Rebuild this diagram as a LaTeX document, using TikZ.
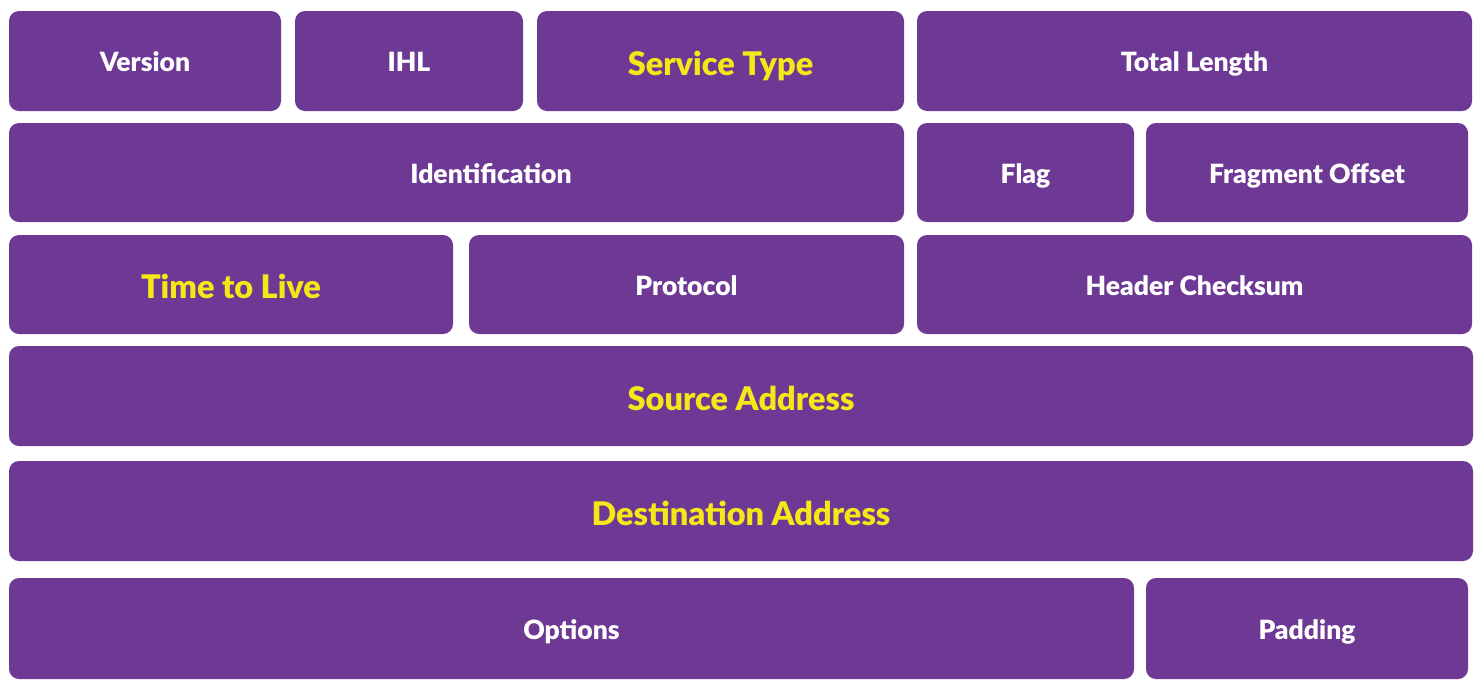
\documentclass[tikz,border=0pt]{standalone}
\usepackage{fontspec}
\setmainfont{Lato}[BoldFont={Lato Black}]
\definecolor{fieldpurple}{RGB}{110,57,148}
\definecolor{fieldyellow}{RGB}{246,232,22}
\tikzset{
  field/.style={fill=fieldpurple, draw=none, rounded corners=10pt,
    inner sep=0pt, outer sep=0pt, text=white,
    font=\fontsize{26.5}{31}\selectfont\bfseries,
    text height=21pt, text depth=0pt},
  keyfield/.style={field, text=fieldyellow,
    font=\fontsize{32.5}{38}\selectfont\bfseries,
    text height=28.5pt, text depth=0pt},
  fieldlabel/.style={text=white, inner sep=0pt, outer sep=0pt,
    font=\fontsize{26.5}{31}\selectfont\bfseries,
    text height=21pt, text depth=0pt}
}
% place a field box by its corners (x1,y1) and (x2,y2), y measured downwards
\newcommand{\fieldbox}[7]{%
  \node[#1, minimum width={#4-#2}, minimum height={#5-#3}]
    (#6) at ({(#2+#4)/2},{(#3+#5)/2}) {#7};}
\begin{document}
\begin{tikzpicture}[x=1pt,y=-1pt]
\useasboundingbox (0,0) rectangle (1483,689);
% row 1
\fieldbox{field}{9}{11}{281}{111}{version}{Version}
\fieldbox{field}{295}{11}{523}{111}{ihl}{IHL}
\fieldbox{keyfield}{537}{11}{904}{111}{service}{Service Type}
\fieldbox{field}{917}{11}{1472}{111}{total}{Total Length}
% row 2
\fieldbox{field}{9}{123}{904}{222}{ident}{}
\node[fieldlabel] (identlabel) at (491,172.5) {Identification};
\fieldbox{field}{917}{123}{1134}{222}{flag}{Flag}
\fieldbox{field}{1146}{123}{1468}{222}{frag}{Fragment Offset}
% row 3
\fieldbox{keyfield}{9}{235}{453}{334}{ttl}{Time to Live}
\fieldbox{field}{469}{235}{904}{334}{proto}{Protocol}
\fieldbox{field}{917}{235}{1472}{334}{checksum}{Header Checksum}
% rows 4 and 5
\fieldbox{keyfield}{9}{346}{1473}{446}{src}{Source Address}
\fieldbox{keyfield}{9}{461}{1473}{561}{dst}{Destination Address}
% row 6
\fieldbox{field}{9}{578}{1134}{679}{options}{Options}
\fieldbox{field}{1146}{578}{1468}{679}{padding}{Padding}
\end{tikzpicture}
\end{document}
